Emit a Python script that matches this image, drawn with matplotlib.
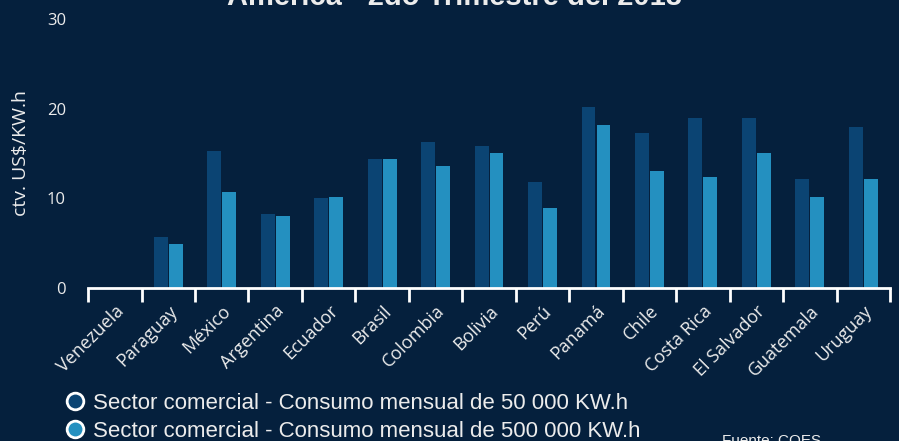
import matplotlib
matplotlib.use("Agg")
import matplotlib.pyplot as plt
from matplotlib.lines import Line2D
import numpy as np

# datos (ctv. US$/KW.h)
paises = ["Venezuela", "Paraguay", "México", "Argentina", "Ecuador", "Brasil",
          "Colombia", "Bolivia", "Perú", "Panamá", "Chile", "Costa Rica",
          "El Salvador", "Guatemala", "Uruguay"]
consumo_50k = [0.0, 5.7, 15.3, 8.3, 10.0, 14.4, 16.3, 15.8, 11.8, 20.2,
               17.3, 19.0, 19.0, 12.1, 17.9]
consumo_500k = [0.0, 4.9, 10.7, 8.0, 10.2, 14.4, 13.6, 15.1, 8.9, 18.2,
                13.1, 12.4, 15.0, 10.2, 12.2]
serie_labels = ["Sector comercial - Consumo mensual de 50 000 KW.h",
                "Sector comercial - Consumo mensual de 500 000 KW.h"]

BG = "#05203d"
C1 = "#0b4473"
C2 = "#2490c0"
TXT = "#ececec"

fig = plt.figure(figsize=(8.99, 4.41), dpi=100, facecolor=BG)
ax = fig.add_axes([0.098, 0.347, 0.892, 0.610], facecolor=BG)

x = np.arange(len(paises))
w = 0.26
ax.bar(x - 0.14, consumo_50k, w, color=C1, zorder=2)
ax.bar(x + 0.14, consumo_500k, w, color=C2, zorder=2)

ax.set_xlim(-0.5, len(paises) - 0.5)
ax.set_ylim(0, 30)
ax.set_yticks([0, 10, 20, 30])
ax.tick_params(axis="y", length=0, pad=16, labelsize=12, labelcolor=TXT)
for t in ax.get_yticklabels():
    t.set_fontfamily("Open Sans")

# ticks en los bordes, etiquetas en el centro
ax.set_xticks(np.arange(len(paises) + 1) - 0.5)
ax.set_xticklabels([])
ax.tick_params(axis="x", which="major", direction="out", length=10, width=2,
               color="white")
ax.set_xticks(x, minor=True)
ax.set_xticklabels(paises, minor=True, rotation=45, ha="right",
                   rotation_mode="anchor", fontfamily="Open Sans",
                   fontsize=13, color=TXT)
ax.tick_params(axis="x", which="minor", length=0, pad=10)

for s in ["left", "right", "top"]:
    ax.spines[s].set_visible(False)
ax.spines["bottom"].set_color("white")
ax.spines["bottom"].set_linewidth(2)
ax.spines["bottom"].set_zorder(3)

ax.set_ylabel("ctv. US$/KW.h", fontfamily="Open Sans", fontsize=14,
              color=TXT, labelpad=12)

fig.text(0.506, 0.989, "América - 2do Trimestre del 2018", ha="center",
         va="baseline", fontsize=21, fontweight="bold", color=TXT,
         fontfamily="Liberation Sans")

handles = [Line2D([], [], marker="o", linestyle="", markersize=12,
                  markerfacecolor=c, markeredgecolor="white",
                  markeredgewidth=2) for c in (C1, C2)]
leg = fig.legend(handles, serie_labels, loc="upper left",
                 bbox_to_anchor=(0.0712, 0.109), frameon=False,
                 handlelength=1.0, handletextpad=0.3, labelspacing=0.3,
                 borderpad=0, borderaxespad=0,
                 prop={"family": "Liberation Sans", "size": 16})
for t in leg.get_texts():
    t.set_color(TXT)

fig.text(0.803, 0.0, "Fuente: COES", ha="left", va="center", fontsize=11,
         color=TXT, fontfamily="Liberation Sans")

fig.savefig("out.png", dpi=100, facecolor=BG)
